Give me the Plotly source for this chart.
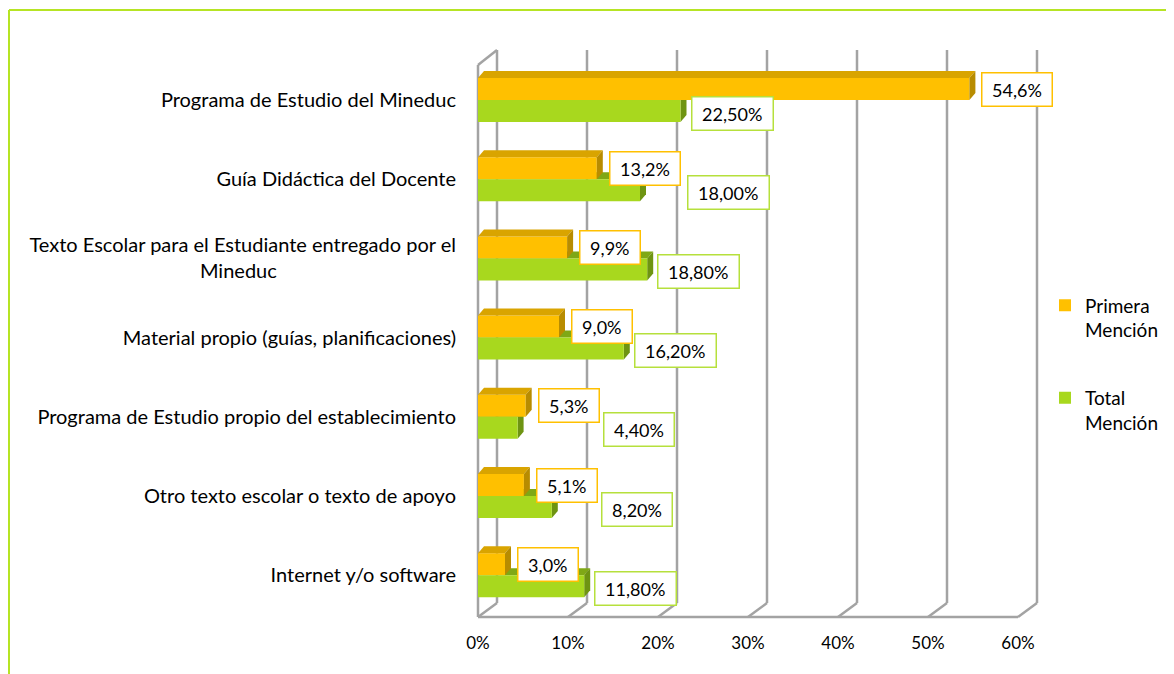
import plotly.graph_objects as go

# ---------------- data ----------------
categories = [
    "Programa de Estudio del Mineduc",
    "Guía Didáctica del Docente",
    "Texto Escolar para el Estudiante entregado por el<br>Mineduc",
    "Material propio (guías, planificaciones)",
    "Programa de Estudio propio del establecimiento",
    "Otro texto escolar o texto de apoyo",
    "Internet y/o software",
]
primera = [54.6, 13.2, 9.9, 9.0, 5.3, 5.1, 3.0]
total = [22.5, 18.0, 18.8, 16.2, 4.4, 8.2, 11.8]
primera_labels = ["54,6%", "13,2%", "9,9%", "9,0%", "5,3%", "5,1%", "3,0%"]
total_labels = ["22,50%", "18,00%", "18,80%", "16,20%", "4,40%", "8,20%", "11,80%"]
x_ticks = [0, 10, 20, 30, 40, 50, 60]
x_tick_text = ["0%", "10%", "20%", "30%", "40%", "50%", "60%"]
series_names = ["Primera<br>Mención", "Total<br>Mención"]

# ---------------- styling / geometry ----------------
OFF = 8                                       # page body margin of the html page
W, H = 1174 - OFF, 674 - OFF
def vx(px):   # viewport x -> figure x
    return px - OFF
def vy(py):
    return py - OFF

L, RPX, T, BPX = vx(470), vx(1046), vy(40), vy(625)     # plot area in figure pixels
X0PX, PXU = vx(478), 9.0                      # pixel of 0 %, pixels per 1 %
Y0PX, PXC = vy(100), 79.2                     # pixel of first category, px per category
FONT = "Lato, 'Open Sans', sans-serif"
ORANGE, ORANGE_TOP, ORANGE_SIDE = "#FFC000", "#D9A400", "#B88C00"
GREEN, GREEN_TOP, GREEN_SIDE = "#A8D81E", "#7FA816", "#6E9412"
GRID = "#A3A3A3"
FRAME = "#B6E424"
NB = "\u00a0"

# centre the wrapped second line like the original
tick_text = [c.replace("<br>Mineduc", "<br>Mineduc" + NB * 35) for c in categories]

xr = [(L - X0PX) / PXU, (RPX - X0PX) / PXU]
yr = [(BPX - Y0PX) / PXC, (T - Y0PX) / PXC]   # reversed
BW = 22 / PXC
DX, DY = 6 / PXU, 7 / PXC                     # bar depth
DXG = 19 / PXU                                 # wall depth
y_top = (vy(50) - Y0PX) / PXC
y_fb = (vy(603) - Y0PX) / PXC
y_ff = (vy(617) - Y0PX) / PXC
y_lw = (vy(65) - Y0PX) / PXC

pos = list(range(len(categories)))

fig = go.Figure()
fig.add_trace(go.Bar(orientation="h", x=primera, y=pos, width=BW, offset=-BW,
                     marker=dict(color=ORANGE, line=dict(width=0)),
                     name=series_names[0], legendgroup="a"))
fig.add_trace(go.Bar(orientation="h", x=total, y=pos, width=BW, offset=0,
                     marker=dict(color=GREEN, line=dict(width=0)),
                     name=series_names[1], legendgroup="b"))

shapes = []
for t in x_ticks:
    shapes.append(dict(type="line", xref="x", yref="y", x0=t + DXG, x1=t + DXG, y0=y_top, y1=y_fb,
                       line=dict(color=GRID, width=2.5), layer="below"))
    shapes.append(dict(type="line", xref="x", yref="y", x0=t + DXG, x1=t, y0=y_fb, y1=y_ff,
                       line=dict(color=GRID, width=2.5), layer="below"))
shapes.append(dict(type="line", xref="x", yref="y", x0=0, x1=0, y0=y_lw, y1=y_ff,
                   line=dict(color=GRID, width=2.5), layer="below"))
shapes.append(dict(type="line", xref="x", yref="y", x0=0, x1=DXG, y0=y_lw, y1=y_top,
                   line=dict(color=GRID, width=2.5), layer="below"))
shapes.append(dict(type="line", xref="x", yref="y", x0=0, x1=x_ticks[-1], y0=y_ff, y1=y_ff,
                   line=dict(color=GRID, width=2.5), layer="below"))


def poly(pts):
    return "M " + " L ".join(f"{a},{b}" for a, b in pts) + " Z"


for i, (o, g) in enumerate(zip(primera, total)):
    yt = i
    shapes.append(dict(type="path", xref="x", yref="y", layer="below", line=dict(width=0),
                       fillcolor=GREEN_TOP,
                       path=poly([(0, yt), (g, yt), (g + DX, yt - DY), (DX, yt - DY)])))
    shapes.append(dict(type="path", xref="x", yref="y", layer="below", line=dict(width=0),
                       fillcolor=GREEN_SIDE,
                       path=poly([(g, yt), (g + DX, yt - DY), (g + DX, yt + BW - DY), (g, yt + BW)])))
    yo = i - BW
    shapes.append(dict(type="path", xref="x", yref="y", layer="above", line=dict(width=0),
                       fillcolor=ORANGE_TOP,
                       path=poly([(0, yo), (o, yo), (o + DX, yo - DY), (DX, yo - DY)])))
    shapes.append(dict(type="path", xref="x", yref="y", layer="above", line=dict(width=0),
                       fillcolor=ORANGE_SIDE,
                       path=poly([(o, yo), (o + DX, yo - DY), (o + DX, i - DY), (o, i)])))

pw, ph = RPX - L, BPX - T
def px2p(px, py):   # viewport pixels -> paper coords
    return (vx(px) - L) / pw, 1 - (vy(py) - T) / ph
fx0, fy0 = px2p(9, 10)
fx1, fy1 = px2p(1180, 680)
shapes.append(dict(type="line", xref="paper", yref="paper", x0=fx0, x1=fx0, y0=fy0, y1=fy1,
                   line=dict(color=FRAME, width=2)))
shapes.append(dict(type="line", xref="paper", yref="paper", x0=fx0, x1=fx1, y0=fy0, y1=fy0,
                   line=dict(color=FRAME, width=2)))

LBL = 18
PAD = 5
annotations = []
for i, (o, g) in enumerate(zip(primera, total)):
    o_left = X0PX + o * PXU + 12
    o_right = o_left + 13 * len(primera_labels[i]) + 7
    annotations.append(dict(x=o, y=i - BW / 2, xref="x", yref="y", text=NB + primera_labels[i] + NB,
                            showarrow=False, xanchor="left", yanchor="middle", xshift=12,
                            font=dict(family=FONT, size=LBL, color="black"),
                            bgcolor="white", bordercolor=ORANGE, borderwidth=1.5, borderpad=PAD))
    g_left = X0PX + g * PXU + 10
    g_right = g_left + 13 * len(total_labels[i]) + 7
    if g_left < o_right and g_right > o_left:
        g_left = o_right + 6
    annotations.append(dict(x=g, y=i + BW / 2, xref="x", yref="y", text=NB + total_labels[i] + NB,
                            showarrow=False, xanchor="left", yanchor="middle",
                            xshift=g_left - (X0PX + g * PXU), yshift=-2,
                            font=dict(family=FONT, size=LBL, color="black"),
                            bgcolor="white", bordercolor="#B6E03C", borderwidth=1.5, borderpad=PAD))

lx, ly = px2p(1045, 364)

fig.update_layout(
    width=W, height=H,
    margin=dict(l=L, r=W - RPX, t=T, b=H - BPX, pad=0, autoexpand=False),
    paper_bgcolor="white", plot_bgcolor="rgba(0,0,0,0)",
    barmode="overlay",
    font=dict(family=FONT, size=20, color="black"),
    shapes=shapes, annotations=annotations,
    showlegend=True,
    legend=dict(x=lx, y=ly, xanchor="left", yanchor="middle", tracegroupgap=40,
                valign="top", font=dict(family=FONT, size=19, color="black"),
                bgcolor="rgba(0,0,0,0)", itemwidth=30),
    xaxis=dict(range=xr, tickvals=x_ticks, ticktext=x_tick_text, showgrid=False,
               zeroline=False, showline=False, ticks="", ticklabelstandoff=6,
               automargin=False, tickfont=dict(family=FONT, size=17, color="black")),
    yaxis=dict(range=yr, tickvals=pos, ticktext=tick_text, showgrid=False,
               zeroline=False, showline=False, ticks="", ticklabelstandoff=13,
               automargin=False, tickfont=dict(family=FONT, size=20, color="black")),
)

fig.write_html("out.html")
